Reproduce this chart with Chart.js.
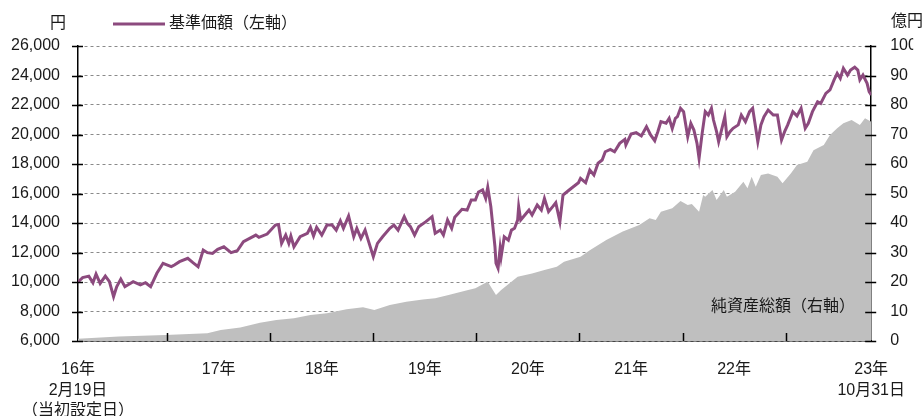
<!DOCTYPE html>
<html lang="ja">
<head>
<meta charset="utf-8">
<script src="https://cdn.jsdelivr.net/npm/chart.js@4.4.1/dist/chart.umd.min.js"></script>
<style>
    html, body { margin: 0; padding: 0; background: #fff; }
    #wrap { position: relative; width: 923px; height: 416px; }
</style>
</head>
<body>
<div id="wrap"><canvas id="chart-nav"></canvas></div>
<script>
// 基準価額 (左軸, 円) - x is decimal year
const navX = [
    2016.135, 2016.18, 2016.24, 2016.28, 2016.31, 2016.35, 2016.40, 2016.44, 2016.48, 2016.51,
    2016.55, 2016.59, 2016.67, 2016.74, 2016.79, 2016.84, 2016.90, 2016.96, 2017.04, 2017.07,
    2017.12, 2017.20, 2017.25, 2017.30, 2017.35, 2017.39, 2017.44, 2017.49, 2017.55, 2017.62,
    2017.68, 2017.74, 2017.86, 2017.89, 2017.97, 2018.05, 2018.08, 2018.11, 2018.15, 2018.18,
    2018.20, 2018.23, 2018.29, 2018.36, 2018.39, 2018.42, 2018.45, 2018.50, 2018.55, 2018.60,
    2018.64, 2018.68, 2018.71, 2018.76, 2018.81, 2018.84, 2018.88, 2018.92, 2018.95, 2019.00,
    2019.04, 2019.09, 2019.16, 2019.20, 2019.24, 2019.30, 2019.33, 2019.36, 2019.40, 2019.44,
    2019.51, 2019.57, 2019.60, 2019.65, 2019.68, 2019.72, 2019.76, 2019.79, 2019.86, 2019.91,
    2019.95, 2019.99, 2020.02, 2020.06, 2020.09, 2020.11, 2020.14, 2020.16, 2020.18, 2020.19,
    2020.21, 2020.23, 2020.24, 2020.27, 2020.31, 2020.34, 2020.37, 2020.40, 2020.41, 2020.43,
    2020.47, 2020.51, 2020.54, 2020.59, 2020.63, 2020.66, 2020.70, 2020.74, 2020.77, 2020.81,
    2020.84, 2020.90, 2020.94, 2020.99, 2021.01, 2021.06, 2021.10, 2021.14, 2021.18, 2021.22,
    2021.25, 2021.30, 2021.34, 2021.39, 2021.44, 2021.45, 2021.50, 2021.55, 2021.60, 2021.65,
    2021.69, 2021.73, 2021.76, 2021.79, 2021.84, 2021.87, 2021.90, 2021.93, 2021.95, 2021.98,
    2022.01, 2022.05, 2022.08, 2022.11, 2022.14, 2022.16, 2022.19, 2022.22, 2022.25, 2022.28,
    2022.30, 2022.33, 2022.35, 2022.37, 2022.41, 2022.43, 2022.46, 2022.49, 2022.54, 2022.57,
    2022.61, 2022.65, 2022.68, 2022.73, 2022.76, 2022.79, 2022.83, 2022.88, 2022.92, 2022.96,
    2022.99, 2023.02, 2023.07, 2023.11, 2023.15, 2023.19, 2023.22, 2023.26, 2023.31, 2023.34,
    2023.39, 2023.43, 2023.47, 2023.50, 2023.53, 2023.56, 2023.60, 2023.63, 2023.67, 2023.70,
    2023.72, 2023.75, 2023.79, 2023.81, 2023.83
];
const navY = [
    10000, 10300, 10400, 9950, 10540, 9900, 10400, 10020, 9000, 9680,
    10200, 9680, 10020, 9800, 9950, 9680, 10590, 11270, 11040, 11150,
    11380, 11610, 11310, 11040, 12170, 11990, 11940, 12220, 12390, 11990,
    12120, 12730, 13180, 13030, 13250, 13860, 13900, 12620, 13180, 12620,
    13120, 12390, 13070, 13300, 13710, 13120, 13710, 13180, 13860, 13860,
    13520, 14150, 13640, 14470, 13070, 13640, 12960, 13520, 12840, 11710,
    12620, 13070, 13640, 13860, 13520, 14430, 13980, 13750, 13180, 13750,
    14090, 14430, 13300, 13520, 13180, 14200, 13640, 14390, 14930, 14880,
    15560, 15560, 16100, 16240, 15670, 16420, 15110, 13750, 12390, 11270,
    10930, 12290, 11710, 13070, 12840, 13520, 13640, 14200, 15110, 14200,
    14540, 14880, 14540, 15220, 14880, 15670, 14770, 15110, 15380, 14090,
    15900, 16240, 16460, 16730, 17030, 16730, 17590, 17250, 18050, 18270,
    18830, 18990, 18830, 19400, 19670, 19290, 20030, 20120, 19900, 20530,
    19970, 19580, 20190, 20870, 20760, 21100, 20400, 21100, 21210, 21780,
    21550, 19850, 20760, 20300, 19400, 18380, 20080, 21550, 21320, 21780,
    20980, 20190, 19510, 20080, 21210, 19850, 20190, 20420, 20650, 21320,
    20870, 21550, 21780, 19510, 20650, 21210, 21660, 21320, 21320, 19630,
    20190, 20650, 21550, 21260, 21780, 20420, 20760, 21550, 22220, 22110,
    22790, 23020, 23700, 24150, 23810, 24490, 24030, 24370, 24560, 24370,
    23700, 24030, 23470, 22900, 22680
];

// 純資産総額 (右軸, 億円)
const aumX = [
    2016.135, 2016.53, 2016.98, 2017.39, 2017.52, 2017.71, 2017.90, 2018.06, 2018.23, 2018.39,
    2018.55, 2018.74, 2018.90, 2019.01, 2019.16, 2019.32, 2019.48, 2019.60, 2019.73, 2019.92,
    2019.99, 2020.08, 2020.11, 2020.14, 2020.19, 2020.24, 2020.40, 2020.54, 2020.66, 2020.78,
    2020.85, 2021.01, 2021.10, 2021.26, 2021.42, 2021.58, 2021.68, 2021.74, 2021.79, 2021.90,
    2021.98, 2022.05, 2022.09, 2022.16, 2022.20, 2022.22, 2022.29, 2022.33, 2022.40, 2022.43,
    2022.51, 2022.59, 2022.63, 2022.67, 2022.71, 2022.76, 2022.83, 2022.92, 2022.97, 2023.05,
    2023.11, 2023.21, 2023.27, 2023.37, 2023.43, 2023.50, 2023.56, 2023.64, 2023.72, 2023.77,
    2023.83
];
const aumY = [
    0.8, 1.5, 2.0, 2.6, 3.7, 4.6, 6.2, 7.1, 7.7, 8.8,
    9.4, 10.8, 11.4, 10.5, 12.2, 13.3, 14.1, 14.5, 15.6, 17.3,
    17.9, 19.6, 20.1, 18.4, 15.6, 17.3, 21.8, 22.9, 24.1, 25.2,
    26.9, 28.6, 30.8, 34.2, 37.1, 39.3, 41.6, 41.0, 43.8, 45.0,
    47.5, 46.1, 46.4, 43.8, 49.5, 48.9, 51.2, 47.8, 51.2, 48.9,
    50.6, 54.0, 51.8, 55.7, 52.3, 56.3, 56.8, 55.7, 53.5, 56.8,
    59.7, 60.8, 64.7, 66.4, 69.8, 72.1, 73.8, 74.9, 73.2, 75.5,
    74.3
];

const xStart = 2016.135;
const xEnd = 2023.83;
const yearTicks = [2017, 2018, 2019, 2020, 2021, 2022, 2023];
const xLabelPos = [2016.135, 2017.5, 2018.5, 2019.5, 2020.5, 2021.5, 2022.5, 2023.83];
const xLabels = [
    ['16年', '2月19日', '（当初設定日）'],
    '17年', '18年', '19年', '20年', '21年', '22年',
    ['23年', '10月31日']
];

const FONT = '"Liberation Sans", "Noto Sans CJK JP", sans-serif';
const NAV_COLOR = '#8c4a7e';
const TEXT = '#1a1a1a';

// inward tick marks, titles and legend
const decorPlugin = {
    id: 'decor',
    afterDraw(chart) {
        const { ctx, chartArea: a, scales } = chart;
        ctx.save();
        ctx.strokeStyle = '#000';
        ctx.lineWidth = 1.5;
        ctx.beginPath();
        yearTicks.forEach(v => {
            const x = Math.round(scales.x.getPixelForValue(v)) + 0.5;
            ctx.moveTo(x, a.bottom);
            ctx.lineTo(x, a.bottom - 8);
        });
        scales.y.ticks.forEach(t => {
            const y = Math.round(scales.y.getPixelForValue(t.value)) + 0.5;
            ctx.moveTo(a.left - 6, y);
            ctx.lineTo(a.left + 5, y);
        });
        scales.y2.ticks.forEach(t => {
            const y = Math.round(scales.y2.getPixelForValue(t.value)) + 0.5;
            ctx.moveTo(a.right - 6, y);
            ctx.lineTo(a.right + 5, y);
        });
        ctx.stroke();

        ctx.fillStyle = TEXT;
        ctx.font = '16px ' + FONT;
        ctx.textBaseline = 'middle';
        ctx.textAlign = 'center';
        ctx.fillText('円', 58, 24);
        ctx.fillText('億円', 907, 22);
        ctx.textAlign = 'left';
        ctx.fillText('基準価額（左軸）', 169, 24);
        ctx.fillText('純資産総額（右軸）', 711, 307);

        ctx.strokeStyle = NAV_COLOR;
        ctx.lineWidth = 3;
        ctx.beginPath();
        ctx.moveTo(113, 24);
        ctx.lineTo(165, 24);
        ctx.stroke();
        ctx.restore();
    }
};

const ctx = document.getElementById('chart-nav').getContext('2d');

new Chart(ctx, {
    type: 'line',
    data: {
        datasets: [
            {
                label: '基準価額（左軸）',
                data: navX.map((x, i) => ({ x: x, y: navY[i] })),
                yAxisID: 'y',
                borderColor: NAV_COLOR,
                borderWidth: 3,
                pointRadius: 0,
                tension: 0,
                fill: false,
                order: 1
            },
            {
                label: '純資産総額（右軸）',
                data: aumX.map((x, i) => ({ x: x, y: aumY[i] })),
                yAxisID: 'y2',
                borderWidth: 0,
                borderColor: 'rgba(0,0,0,0)',
                backgroundColor: '#bfbfbf',
                pointRadius: 0,
                tension: 0,
                fill: 'origin',
                order: 2
            }
        ]
    },
    options: {
        responsive: true,
        maintainAspectRatio: false,
        animation: false,
        layout: { padding: { top: 46, left: 0, right: 0, bottom: 0 } },
        plugins: {
            legend: { display: false },
            tooltip: { enabled: false }
        },
        scales: {
            x: {
                type: 'linear',
                min: xStart,
                max: xEnd,
                afterBuildTicks: scale => { scale.ticks = xLabelPos.map(v => ({ value: v })); },
                afterFit: scale => { scale.height = 75; },
                grid: { display: false, drawTicks: false },
                border: { display: true, color: '#000', width: 1.5 },
                ticks: {
                    autoSkip: false,
                    maxRotation: 0,
                    padding: 18,
                    color: TEXT,
                    font: { size: 16, family: FONT, lineHeight: 1.3 },
                    callback: (v, i) => xLabels[i]
                }
            },
            y: {
                position: 'left',
                min: 6000,
                max: 26000,
                afterFit: scale => { scale.width = 78; },
                grid: { color: '#8a8a8a', lineWidth: 1, drawTicks: false },
                border: { display: true, color: '#000', width: 1.5, dash: [3, 3] },
                ticks: {
                    stepSize: 2000,
                    padding: 18,
                    color: TEXT,
                    font: { size: 16, family: FONT },
                    callback: v => v.toLocaleString('en-US')
                }
            },
            y2: {
                position: 'right',
                min: 0,
                max: 100,
                afterFit: scale => { scale.width = 42; },
                grid: { drawOnChartArea: false, drawTicks: false },
                border: { display: true, color: '#000', width: 1.5 },
                ticks: {
                    stepSize: 10,
                    padding: 19,
                    color: TEXT,
                    font: { size: 16, family: FONT }
                }
            }
        }
    },
    plugins: [decorPlugin]
});
</script>
</body>
</html>
